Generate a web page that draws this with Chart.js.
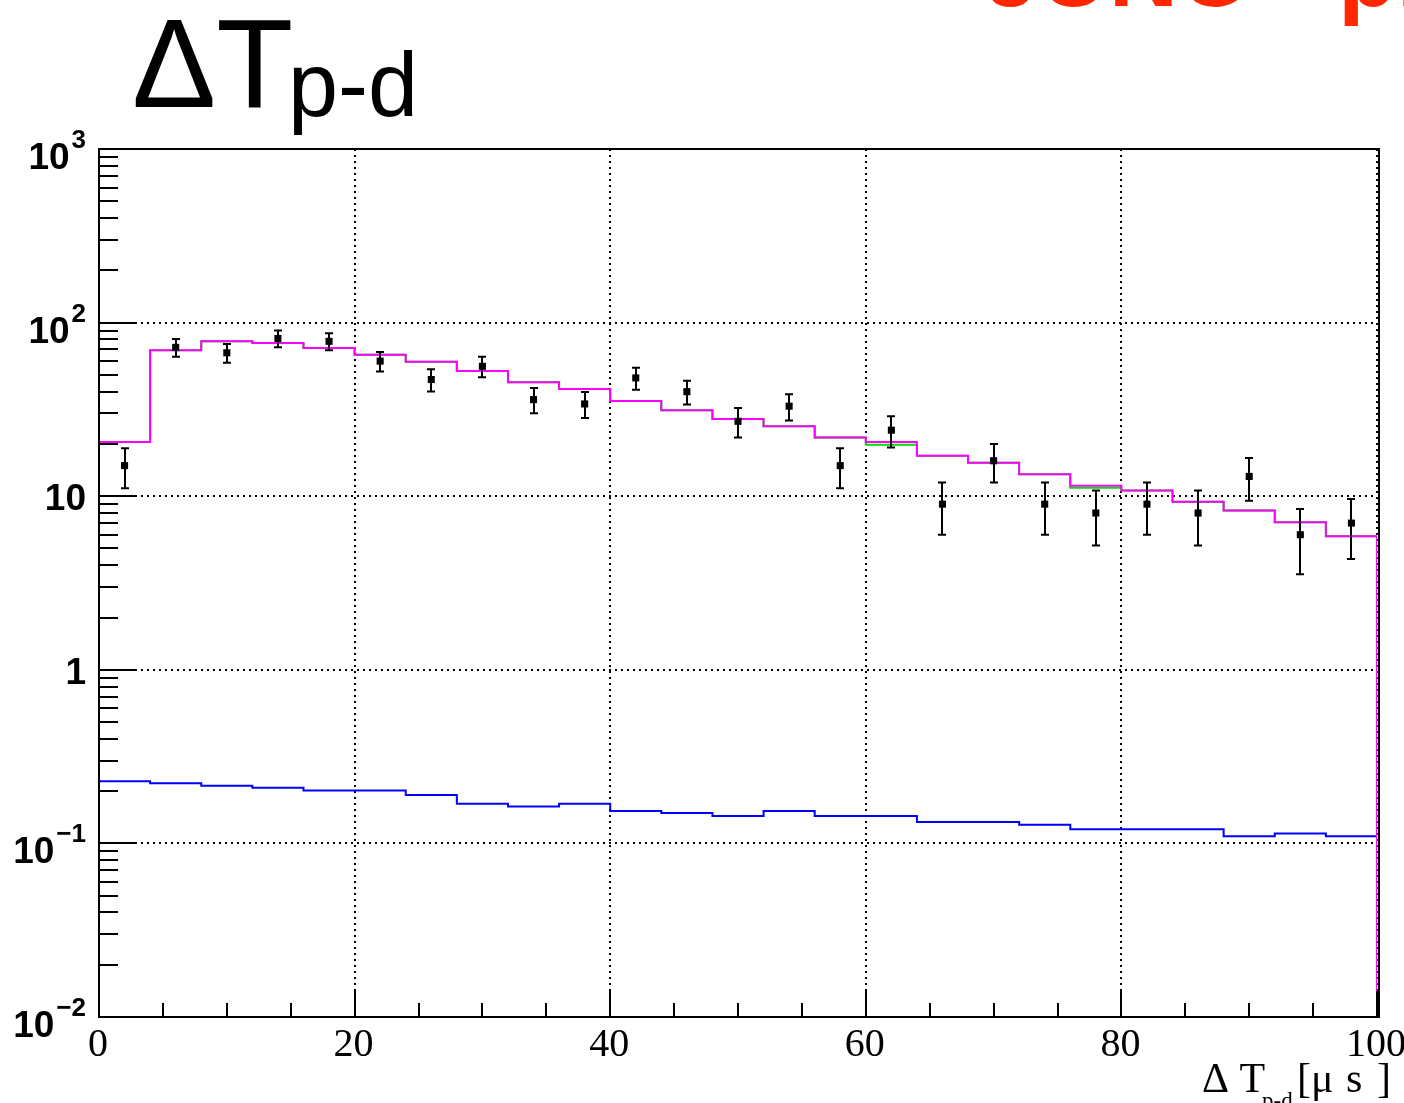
<!DOCTYPE html>
<html>
<head>
<meta charset="utf-8">
<script src="https://cdn.jsdelivr.net/npm/chart.js@4.4.1/dist/chart.umd.min.js"></script>
<style>
html,body{margin:0;padding:0;background:#ffffff;}
#wrap{width:1404px;height:1103px;position:relative;overflow:hidden;}
canvas{display:block;}
</style>
</head>
<body>
<div id="wrap"><canvas id="c" width="1404" height="1103"></canvas></div>
<script>
// ---------------- data ----------------
const binEdges = [0,4,8,12,16,20,24,28,32,36,40,44,48,52,56,60,64,68,72,76,80,84,88,92,96,100];
const binCenters = [2,6,10,14,18,22,26,30,34,38,42,46,50,54,58,62,66,70,74,78,82,86,90,94,98];
// measured data (black points) and their errors
const dataValues = [15,72,67,81,78,60,47,56,36,34,48,40,27,33,15,24,9,16,9,8,9,8,13,6,7];
const dataErrors = [3.9,8.5,8.2,9.0,8.8,7.7,6.9,7.5,6.0,5.8,6.9,6.3,5.2,5.7,3.9,4.9,3.0,4.0,3.0,2.8,3.0,2.8,3.6,2.45,2.65];
// total prediction (magenta)
const totalValues = [20.5,69.4,78.2,76.2,71.3,65.2,59.4,52.7,45.4,41.4,35.4,31.3,27.8,25.3,21.8,20.5,17.1,15.6,13.4,11.5,10.8,9.3,8.26,7.08,5.88];
// signal prediction (green, mostly hidden under magenta)
const signalValues = [20.5,69.4,78.2,76.2,71.3,65.2,59.4,52.7,45.4,41.4,35.4,31.3,27.8,25.3,21.8,19.8,17.1,15.6,13.4,11.2,10.8,9.3,8.26,7.08,5.88];
// background prediction (blue)
const bkgValues = [0.228,0.222,0.215,0.209,0.202,0.202,0.190,0.169,0.163,0.169,0.1535,0.1495,0.144,0.1535,0.144,0.144,0.133,0.133,0.128,0.1205,0.1205,0.1205,0.110,0.114,0.110];

// axes
const xMin = 0, xMax = 100;
const yMin = 0.01, yMax = 1000;
const xTickValues = [0,5,10,15,20,25,30,35,40,45,50,55,60,65,70,75,80,85,90,95,100];
const xLabelValues = [0,20,40,60,80,100];
const xTickLabels = ['0','20','40','60','80','100'];
const xGridValues = [20,40,60,80,100];
const yDecades = [0.01,0.1,1,10,100,1000];
const yMinorMultipliers = [2,3,4,5,6,7,8,9];
const yTickLabelBase = ['10','10','1','10','10','10'];
const yTickLabelExp = ['\u22122','\u22121','','','2','3'];
const yGridValues = [0.1,1,10,100];

const titleMain = '\u0394T';
const titleSub = 'p-d';
const watermark = 'JUNO - preliminary';
const xTitleMain = '\u0394 T';
const xTitleSub = 'p-d';
const xTitleUnit = ['[','\u03bc','s',']'];

// ---------------- helpers ----------------
function histPoints(vals, dropToMin) {
  const pts = vals.map((v, i) => ({x: binEdges[i], y: v}));
  pts.push({x: binEdges[binEdges.length - 1], y: vals[vals.length - 1]});
  if (dropToMin) pts.push({x: binEdges[binEdges.length - 1], y: yMin});
  return pts;
}
const yTickValues = [];
yDecades.forEach((d, i) => {
  yTickValues.push(d);
  if (i < yDecades.length - 1) yMinorMultipliers.forEach(m => yTickValues.push(m * d));
});

// ---------------- plugins ----------------
const errorBarPlugin = {
  id: 'errorBars',
  afterDatasetsDraw(chart) {
    const xs = chart.scales.x, ys = chart.scales.y, c = chart.ctx;
    c.save();
    c.strokeStyle = '#000';
    c.lineWidth = 2;
    dataValues.forEach((v, i) => {
      const px = Math.round(xs.getPixelForValue(binCenters[i]));
      const pt = ys.getPixelForValue(v + dataErrors[i]);
      const pb = ys.getPixelForValue(v - dataErrors[i]);
      c.beginPath();
      c.moveTo(px, pt); c.lineTo(px, pb);
      c.moveTo(px - 4, pt); c.lineTo(px + 4, pt);
      c.moveTo(px - 4, pb); c.lineTo(px + 4, pb);
      c.stroke();
    });
    c.restore();
  }
};

const framePlugin = {
  id: 'frameAndText',
  afterDraw(chart) {
    const xs = chart.scales.x, ys = chart.scales.y, c = chart.ctx;
    const a = chart.chartArea;
    c.save();
    // ticks (inside)
    c.strokeStyle = '#000';
    c.lineWidth = 2;
    c.beginPath();
    yTickValues.forEach(v => {
      const py = Math.round(ys.getPixelForValue(v));
      const len = yDecades.includes(v) ? 37 : 19;
      c.moveTo(a.left, py); c.lineTo(a.left + len, py);
    });
    xTickValues.forEach(v => {
      const px = Math.round(xs.getPixelForValue(v));
      const len = (v % 20 === 0) ? 26 : 14;
      c.moveTo(px, a.bottom); c.lineTo(px, a.bottom - len);
    });
    c.stroke();
    // frame (right edge sits just outside the x=100 line, as in the original)
    c.beginPath();
    c.moveTo(a.left, a.top); c.lineTo(a.right + 2, a.top);
    c.lineTo(a.right + 2, a.bottom); c.lineTo(a.left, a.bottom);
    c.closePath();
    c.stroke();

    // y tick labels
    c.fillStyle = '#000';
    c.textAlign = 'left';
    c.textBaseline = 'alphabetic';
    const rightX = 86;
    yDecades.forEach((v, i) => {
      const py = ys.getPixelForValue(v);
      const base = yTickLabelBase[i], exp = yTickLabelExp[i];
      c.font = 'bold 37px "Liberation Sans", Arial, sans-serif';
      const wb = c.measureText(base).width;
      c.font = 'bold 26px "Liberation Sans", Arial, sans-serif';
      const we = exp ? c.measureText(exp).width : 0;
      const gap = exp ? 2 : 0;
      const x0 = rightX - wb - gap - we;
      c.font = 'bold 37px "Liberation Sans", Arial, sans-serif';
      if (exp) {
        c.fillText(base, x0, py + 20);
        c.font = 'bold 26px "Liberation Sans", Arial, sans-serif';
        c.fillText(exp, x0 + wb + gap, py - 1);
      } else {
        c.fillText(base, x0, py + 14);
      }
    });

    // x tick labels
    c.font = '40px "Liberation Serif", "Times New Roman", serif';
    c.textAlign = 'center';
    xLabelValues.forEach((v, i) => {
      const px = xs.getPixelForValue(v);
      c.fillText(xTickLabels[i], px - 1, 1056);
    });

    // x axis title
    c.textAlign = 'left';
    c.font = '42px "Liberation Serif", "Times New Roman", serif';
    c.fillText(xTitleMain, 1202, 1092);
    c.font = '23px "Liberation Serif", "Times New Roman", serif';
    c.fillText(xTitleSub, 1262, 1108);
    c.font = '42px "Liberation Serif", "Times New Roman", serif';
    const unitX = [1297, 1311, 1346, 1377];
    xTitleUnit.forEach((s, i) => c.fillText(s, unitX[i], 1092));

    // big title
    c.font = '126px "Liberation Sans", Arial, sans-serif';
    c.fillText(titleMain, 132, 107);
    c.font = '90px "Liberation Sans", Arial, sans-serif';
    c.fillText(titleSub, 288, 116);

    // red watermark (cut at top)
    c.fillStyle = 'rgb(255,38,0)';
    c.font = 'bold 96px "Liberation Sans", Arial, sans-serif';
    c.fillText(watermark, 986, 6);
    c.restore();
  }
};

// ---------------- chart ----------------
const lineDs = (label, vals, color, drop, order) => ({
  type: 'line', label, data: histPoints(vals, drop), order,
  borderColor: color, backgroundColor: color, borderWidth: 2,
  stepped: true, pointRadius: 0, pointHoverRadius: 0, fill: false, tension: 0
});

new Chart(document.getElementById('c'), {
  type: 'scatter',
  data: {
    datasets: [
      lineDs('Background', bkgValues, '#0000ff', false, 3),
      lineDs('Signal', signalValues, '#00dd00', false, 2),
      lineDs('Total', totalValues, '#ff00ff', true, 1),
      {
        type: 'scatter', label: 'Data', order: 0,
        data: dataValues.map((v, i) => ({x: binCenters[i], y: v})),
        pointStyle: 'rect', pointRadius: 5, pointHoverRadius: 5,
        backgroundColor: '#000', borderColor: '#000', borderWidth: 0
      }
    ]
  },
  options: {
    responsive: false,
    animation: false,
    events: [],
    layout: {padding: {left: 99, right: 27, top: 149, bottom: 86}},
    plugins: {legend: {display: false}, tooltip: {enabled: false}, title: {display: false}},
    scales: {
      x: {
        type: 'linear', min: xMin, max: xMax,
        afterFit(s) { s.height = 0; },
        afterBuildTicks(s) { s.ticks = xTickValues.map(v => ({value: v})); },
        ticks: {display: false},
        grid: {
          drawTicks: false, lineWidth: 2,
          color: (ctx) => (ctx.tick && xGridValues.includes(ctx.tick.value)) ? '#000' : 'rgba(0,0,0,0)'
        },
        border: {display: false, dash: [2, 4]}
      },
      y: {
        type: 'logarithmic', min: yMin, max: yMax,
        afterFit(s) { s.width = 0; },
        afterBuildTicks(s) { s.ticks = yTickValues.map(v => ({value: v})); },
        ticks: {display: false},
        grid: {
          drawTicks: false, lineWidth: 2,
          color: (ctx) => (ctx.tick && yGridValues.includes(ctx.tick.value)) ? '#000' : 'rgba(0,0,0,0)'
        },
        border: {display: false, dash: [2, 4]}
      }
    }
  },
  plugins: [errorBarPlugin, framePlugin]
});
</script>
</body>
</html>
